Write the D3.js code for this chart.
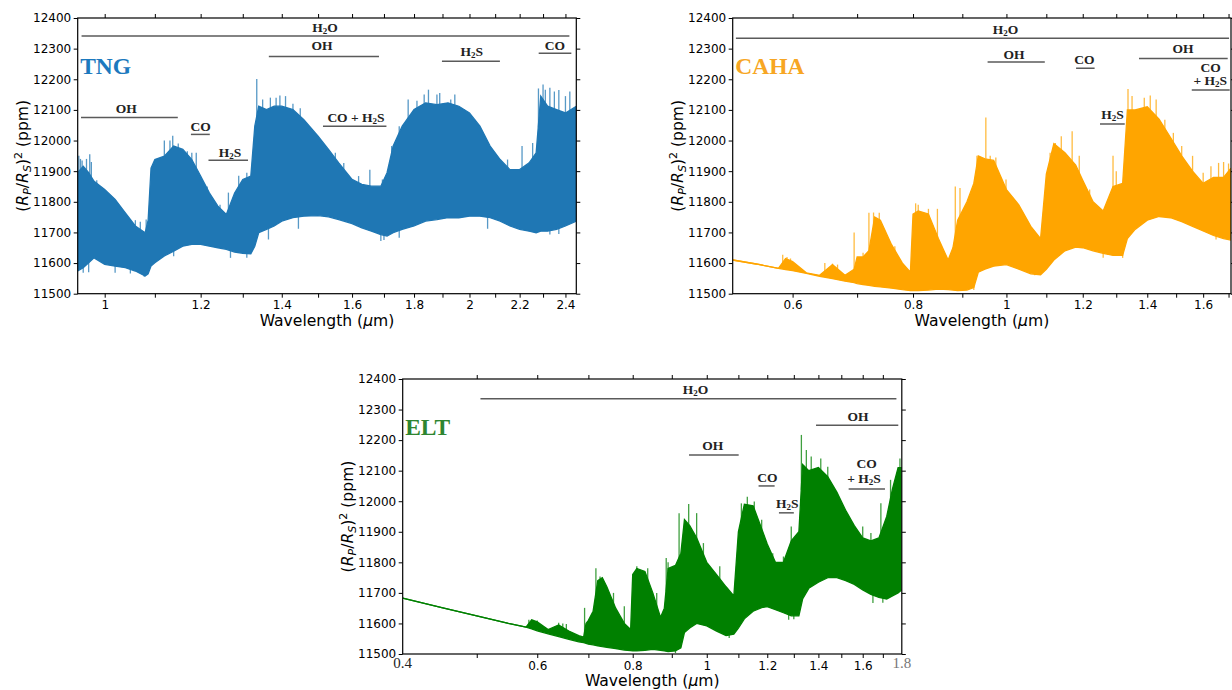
<!DOCTYPE html>
<html><head><meta charset="utf-8">
<script src="https://cdn.jsdelivr.net/npm/d3@7"></script>
<style>body{margin:0;background:#fff;}svg{display:block;}</style>
</head><body>
<svg id="chart" width="1232" height="690"></svg>
<script>
// ---------------- DATA ----------------
const yTicks = [11500,11600,11700,11800,11900,12000,12100,12200,12300,12400];

// TNG (GIANO) spectrum envelope
const tngWave  = [0.95,0.96,0.97,0.98,1.0,1.02,1.04,1.06,1.08,1.086,1.092,1.1,1.12,1.14,1.16,1.18,1.2,1.22,1.24,1.26,1.28,1.3,1.32,1.33,1.34,1.36,1.38,1.4,1.43,1.46,1.5,1.53,1.56,1.6,1.63,1.66,1.69,1.71,1.73,1.76,1.8,1.84,1.88,1.92,1.96,2.0,2.04,2.08,2.12,2.16,2.2,2.24,2.27,2.29,2.32,2.36,2.4,2.45];
const tngUpper = [11895,11916,11895,11867,11840,11808,11764,11721,11699,11740,11910,11938,11949,11982,11971,11938,11884,11829,11786,11759,11829,11873,11884,12047,12112,12101,12112,12112,12101,12068,12014,11971,11927,11873,11857,11851,11851,11895,11982,12047,12101,12123,12117,12123,12112,12090,12047,11982,11938,11905,11905,11927,11960,12145,12112,12101,12090,12112];
const tngLower = [11574,11585,11601,11617,11596,11590,11585,11574,11558,11565,11590,11601,11623,11639,11655,11661,11661,11655,11650,11645,11636,11632,11630,11655,11699,11710,11721,11737,11748,11753,11755,11751,11742,11729,11715,11704,11693,11688,11699,11710,11721,11737,11742,11748,11748,11753,11753,11748,11737,11721,11710,11704,11699,11704,11704,11710,11721,11737];
const tngSpikeWave = [0.952,0.955,0.958,0.966,0.972,0.975,0.985,1.01,1.045,1.06,1.07,1.082,1.11,1.12,1.132,1.138,1.15,1.17,1.18,1.19,1.215,1.245,1.265,1.29,1.31,1.335,1.35,1.37,1.385,1.395,1.41,1.43,1.45,1.465,1.48,1.53,1.55,1.575,1.62,1.655,1.695,1.705,1.725,1.75,1.78,1.81,1.835,1.85,1.88,1.89,1.93,1.945,1.98,2.02,2.04,2.07,2.11,2.15,2.21,2.255,2.28,2.30,2.31,2.33,2.35,2.37,2.40,2.42];
const tngSpikeTop  = [11950,11940,11935,11940,11955,11930,11870,11810,11745,11740,11735,11742,11940,12000,12000,12016,11990,11965,11960,11960,11850,11790,11830,11885,11895,12201,12134,12140,12140,12147,12145,12120,12105,12025,12036,11970,11960,11927,11884,11905,11873,11880,11982,12047,12134,12130,12150,12166,12150,12155,12134,12150,12101,12068,12025,11990,11916,11938,11982,11992,12170,12183,12166,12172,12160,12165,12145,12160];
const tngDipWave   = [0.96,0.97,1.02,1.05,1.078,1.14,1.27,1.31,1.365,1.445,1.69,1.70,1.75,2.07,2.33,2.37];
const tngDipBottom = [11568,11570,11568,11566,11555,11622,11617,11617,11677,11712,11672,11675,11683,11712,11693,11695];

// CAHA (CARMENES) spectrum envelope
const cahaWave  = [0.52,0.55,0.58,0.59,0.6,0.62,0.64,0.66,0.68,0.695,0.7,0.71,0.72,0.73,0.74,0.76,0.78,0.795,0.8,0.81,0.83,0.85,0.87,0.88,0.89,0.91,0.925,0.935,0.95,0.97,1.0,1.03,1.06,1.085,1.1,1.12,1.15,1.18,1.2,1.23,1.26,1.29,1.32,1.335,1.36,1.4,1.44,1.48,1.52,1.56,1.6,1.64,1.68,1.71];
const cahaUpper = [11610,11597,11583,11615,11605,11568,11560,11595,11560,11580,11620,11620,11640,11750,11740,11660,11600,11570,11760,11770,11760,11680,11610,11650,11740,11800,11860,11950,11940,11935,11840,11790,11720,11680,11890,11990,11960,11920,11870,11800,11770,11850,11860,12100,12100,12110,12070,12010,11950,11900,11860,11880,11880,11910];
const cahaLower = [11610,11597,11583,11579,11575,11566,11557,11549,11541,11536,11533,11530,11527,11524,11522,11518,11513,11510,11510,11510,11512,11515,11513,11512,11510,11512,11520,11570,11580,11590,11595,11580,11565,11562,11580,11610,11640,11652,11650,11640,11632,11625,11625,11680,11710,11740,11752,11748,11735,11720,11705,11690,11680,11675];
const cahaSpikeWave = [0.586,0.592,0.597,0.648,0.66,0.668,0.695,0.71,0.72,0.728,0.738,0.766,0.805,0.81,0.83,0.848,0.885,0.895,0.92,0.932,0.952,0.962,0.975,0.999,1.03,1.05,1.11,1.124,1.14,1.17,1.19,1.22,1.29,1.3,1.337,1.35,1.39,1.41,1.43,1.46,1.49,1.52,1.56,1.6,1.63,1.66,1.68,1.7];
const cahaSpikeTop  = [11627,11620,11615,11600,11598,11595,11700,11634,11764,11765,11764,11655,11795,11790,11777,11777,11850,11845,11830,11950,12075,11950,11945,11873,11775,11720,11960,11992,12014,12030,11950,11840,11950,11900,12168,12145,12140,12147,12134,12068,12025,11982,11950,11895,11916,11927,11930,11925];
const cahaDipWave   = [0.925,1.07,1.26,1.32,1.65];
const cahaDipBottom = [11512,11560,11617,11617,11677];

// ELT spectrum envelope
const eltWave  = [0.4,0.45,0.5,0.55,0.58,0.59,0.6,0.62,0.64,0.66,0.68,0.69,0.695,0.7,0.71,0.72,0.73,0.74,0.76,0.78,0.795,0.8,0.81,0.83,0.85,0.87,0.88,0.89,0.91,0.925,0.935,0.95,0.97,1.0,1.03,1.06,1.085,1.1,1.12,1.15,1.18,1.2,1.23,1.26,1.29,1.32,1.335,1.36,1.4,1.44,1.48,1.52,1.56,1.6,1.64,1.68,1.72,1.75,1.78,1.8];
const eltUpper = [11683,11652,11625,11600,11588,11612,11605,11580,11595,11575,11560,11555,11600,11610,11640,11740,11750,11720,11650,11600,11580,11760,11780,11770,11700,11620,11650,11780,11790,11830,11940,11920,11880,11800,11760,11720,11690,11900,11990,11985,11910,11860,11800,11800,11870,11900,12120,12100,12110,12080,12030,11970,11920,11880,11870,11880,11950,12040,12110,12110];
const eltLower = [11683,11652,11625,11600,11588,11582,11576,11566,11557,11548,11540,11537,11535,11532,11530,11527,11524,11522,11518,11513,11511,11510,11510,11512,11515,11512,11510,11508,11510,11520,11570,11585,11600,11592,11575,11560,11565,11585,11615,11640,11652,11655,11645,11635,11625,11625,11680,11715,11735,11750,11750,11740,11728,11710,11695,11685,11680,11690,11700,11710];
const eltSpikeWave = [0.585,0.592,0.6,0.64,0.648,0.655,0.692,0.716,0.725,0.755,0.78,0.81,0.837,0.86,0.885,0.89,0.92,0.947,0.97,0.99,1.04,1.11,1.13,1.154,1.18,1.22,1.26,1.29,1.33,1.35,1.37,1.41,1.44,1.47,1.5,1.55,1.6,1.64,1.69,1.74,1.79];
const eltSpikeTop  = [11612,11608,11610,11602,11600,11598,11651,11781,11754,11700,11656,11787,11781,11700,11814,11800,11961,11991,11961,11863,11787,11993,12015,11999,11939,11830,11819,11917,12217,12168,12146,12140,12113,12037,11972,11917,11917,11896,11993,12070,12140];
const eltDipWave   = [0.91,1.07,1.28,1.3,1.65,1.7];
const eltDipBottom = [11503,11552,11612,11614,11667,11668];

// x tick labels
const tngTicks  = [1,1.2,1.4,1.6,1.8,2,2.2,2.4];
const tngMinor  = [1.1,1.3,1.5,1.7,1.9,2.1,2.3];
const cahaTicks = [0.6,0.8,1,1.2,1.4,1.6];
const cahaMinor = [0.7,0.9,1.1,1.3,1.5,1.7];
const eltTicks  = [0.6,0.8,1,1.2,1.4,1.6];
const eltMinor  = [0.5,0.7,0.9,1.1,1.3,1.5,1.7];
const eltEdgeTicks = [0.4,1.8];

// annotations: [label, line start (µm), line end (µm), line level (ppm), label centre (µm), label baseline (ppm)]
const tngNotes = [
  ['H₂O', 0.957, 2.418, 12341, 1.520, 12353],
  ['OH', 1.366, 1.684, 12274, 1.511, 12295],
  ['H₂S', 1.898, 2.119, 12259, 2.009, 12276],
  ['CO', 2.281, 2.427, 12285, 2.352, 12296],
  ['OH', 0.956, 1.149, 12075, 1.042, 12089],
  ['CO', 1.178, 1.221, 12020, 1.200, 12031],
  ['H₂S', 1.218, 1.313, 11936, 1.269, 11947],
  ['CO + H₂S', 1.514, 1.708, 12047, 1.612, 12062]
];
const cahaNotes = [
  ['H₂O', 0.524, 1.702, 12334, 0.998, 12349],
  ['OH', 0.956, 1.096, 12256, 1.018, 12267],
  ['CO', 1.181, 1.2345, 12236, 1.205, 12249],
  ['OH', 1.3726, 1.6966, 12268, 1.5247, 12285],
  ['CO', null, null, null, 1.6286, 12225],
  ['+ H₂S', 1.557, 1.7047, 12165, 1.627, 12181],
  ['H₂S', 1.2504, 1.3266, 12054, 1.2887, 12069]
];
const eltNotes = [
  ['H₂O', 0.5056, 1.771, 12335, 0.9668, 12352],
  ['OH', 1.39, 1.781, 12249, 1.578, 12261],
  ['OH', 0.948, 1.101, 12151, 1.018, 12167],
  ['CO', 1.169, 1.227, 12050, 1.2007, 12063],
  ['H₂S', 1.243, 1.300, 11962, 1.275, 11979],
  ['CO', null, null, null, 1.619, 12108],
  ['+ H₂S', 1.5336, 1.711, 12040, 1.606, 12061]
];

// ---------------- DRAW ----------------
const svg = d3.select('#chart');
const SANS = "'DejaVu Sans', sans-serif";
const SERIF = "'Liberation Serif', 'Times New Roman', serif";
const defs = svg.append('defs');

function drawPanel(p) {
  const x = d3.scaleLog().domain(p.domain).range([p.left, p.right]);
  const y = d3.scaleLinear().domain([11500, 12400]).range([p.bottom, p.top]);
  const g = svg.append('g');
  const clipId = 'clip-' + p.id;
  defs.append('clipPath').attr('id', clipId).append('rect')
    .attr('x', p.left).attr('y', p.top).attr('width', p.right - p.left).attr('height', p.bottom - p.top);

  const rows = p.wave.map((w, i) => ({w, hi: p.upper[i], lo: p.lower[i]}));
  const plot = g.append('g').attr('clip-path', `url(#${clipId})`);
  const interp = (arr, w) => {
    const i = Math.max(1, Math.min(p.wave.length - 1, d3.bisectLeft(p.wave, w)));
    const w0 = p.wave[i - 1], w1 = p.wave[i];
    const t = (Math.log(w) - Math.log(w0)) / (Math.log(w1) - Math.log(w0));
    return arr[i - 1] + t * (arr[i] - arr[i - 1]);
  };
  // spikes (behind the dense band, lighter)
  plot.selectAll('line.spike').data(p.spikeWave).join('line').attr('class', 'spike')
    .attr('x1', d => x(d)).attr('x2', d => x(d))
    .attr('y1', (d, i) => y(p.spikeTop[i])).attr('y2', d => y(interp(p.upper, d)) + 3)
    .attr('stroke', p.color).attr('stroke-width', 1.3).attr('opacity', 0.75);
  plot.selectAll('line.dip').data(p.dipWave).join('line').attr('class', 'dip')
    .attr('x1', d => x(d)).attr('x2', d => x(d))
    .attr('y1', (d, i) => y(p.dipBottom[i])).attr('y2', d => y(interp(p.lower, d)) - 3)
    .attr('stroke', p.color).attr('stroke-width', 1.3).attr('opacity', 0.75);

  plot.append('path').datum(rows)
    .attr('d', d3.area().x(d => x(d.w)).y0(d => y(d.lo)).y1(d => y(d.hi)))
    .attr('fill', p.color);
  ['hi', 'lo'].forEach(k => {
    plot.append('path').datum(rows)
      .attr('d', d3.line().x(d => x(d.w)).y(d => y(d[k])))
      .attr('fill', 'none').attr('stroke', p.color).attr('stroke-width', 1.3);
  });

  // axes
  const styleAxis = sel => {
    sel.select('.domain').remove();
    sel.selectAll('line').attr('stroke', '#000').attr('stroke-width', 1);
    sel.selectAll('text').attr('font-family', SANS).attr('font-size', 12).attr('fill', '#000');
  };
  const allX = p.ticks.concat(p.minor);
  g.append('g').attr('transform', `translate(0,${p.bottom})`)
    .call(d3.axisBottom(x).tickValues(p.ticks).tickFormat(d => String(d)).tickSize(4).tickSizeOuter(0).tickPadding(3))
    .call(styleAxis);
  g.append('g').attr('transform', `translate(0,${p.bottom})`)
    .call(d3.axisBottom(x).tickValues(p.minor.filter(v => v < p.domain[1])).tickFormat('').tickSize(4).tickSizeOuter(0))
    .call(styleAxis);
  g.append('g').attr('transform', `translate(0,${p.top})`)
    .call(d3.axisTop(x).tickValues(allX.filter(v => v < p.domain[1])).tickFormat('').tickSize(4).tickSizeOuter(0))
    .call(styleAxis);
  g.append('g').attr('transform', `translate(${p.left},0)`)
    .call(d3.axisLeft(y).tickValues(yTicks).tickFormat(d => String(d)).tickSize(4).tickSizeOuter(0).tickPadding(2.5))
    .call(styleAxis);
  g.append('g').attr('transform', `translate(${p.right},0)`)
    .call(d3.axisRight(y).tickValues(yTicks).tickFormat('').tickSize(4).tickSizeOuter(0))
    .call(styleAxis);

  if (p.edgeTicks) {
    g.selectAll('text.edge').data(p.edgeTicks).join('text').attr('class', 'edge')
      .attr('x', d => x(d)).attr('y', p.bottom + 14)
      .attr('text-anchor', 'middle').attr('font-family', SERIF).attr('font-size', 15)
      .attr('fill', (d, i) => i === 0 ? '#222' : '#777').text(d => String(d));
  }

  g.append('rect').attr('x', p.left).attr('y', p.top)
    .attr('width', p.right - p.left).attr('height', p.bottom - p.top)
    .attr('fill', 'none').attr('stroke', '#000').attr('stroke-width', 1.2);

  // x label
  const xl = g.append('text').attr('x', (p.left + p.right) / 2).attr('y', p.bottom + 32)
    .attr('text-anchor', 'middle').attr('font-family', SANS).attr('font-size', 15.6).attr('fill', '#000');
  xl.append('tspan').text('Wavelength (');
  xl.append('tspan').attr('font-style', 'italic').text('μ');
  xl.append('tspan').text('m)');

  // y label
  const yl = g.append('text')
    .attr('transform', `translate(${p.left - 50},${(p.top + p.bottom) / 2}) rotate(-90)`)
    .attr('text-anchor', 'middle').attr('font-family', SANS).attr('font-size', 15.6).attr('fill', '#000');
  yl.append('tspan').text('(');
  yl.append('tspan').attr('font-style', 'italic').text('R');
  yl.append('tspan').attr('font-style', 'italic').attr('font-size', 11).attr('dy', 3.5).text('P');
  yl.append('tspan').attr('dy', -3.5).text('/');
  yl.append('tspan').attr('font-style', 'italic').text('R');
  yl.append('tspan').attr('font-style', 'italic').attr('font-size', 11).attr('dy', 3.5).text('S');
  yl.append('tspan').attr('dy', -3.5).text(')');
  yl.append('tspan').attr('font-size', 11).attr('dy', -6).text('2');
  yl.append('tspan').attr('dy', 6).text(' (ppm)');

  // panel title
  g.append('text').attr('x', p.left + 2.5).attr('y', p.top + 56)
    .attr('font-family', SERIF).attr('font-weight', 'bold').attr('font-size', 23.5)
    .attr('fill', p.titleColor).text(p.title);

  // annotations
  p.notes.forEach(n => {
    const [label, a, b, lv, lx, ly] = n;
    if (a !== null) {
      g.append('line').attr('x1', x(a)).attr('x2', x(b)).attr('y1', y(lv)).attr('y2', y(lv))
        .attr('stroke', '#5a5a5a').attr('stroke-width', 1.5);
    }
    const t = g.append('text').attr('x', x(lx)).attr('y', y(ly)).attr('text-anchor', 'middle')
      .attr('font-family', SERIF).attr('font-weight', 'bold').attr('font-size', 13.5).attr('fill', '#222');
    const parts = label.split('₂');
    parts.forEach((s, i) => {
      if (i > 0) {
        t.append('tspan').attr('font-size', 9).attr('dy', 2).text('2');
        t.append('tspan').attr('dy', -2).text(s);
      } else {
        t.append('tspan').text(s);
      }
    });
  });
}

drawPanel({id: 'tng', domain: [0.95, 2.45], left: 77.7, right: 576.3, top: 18, bottom: 293.7,
  wave: tngWave, upper: tngUpper, lower: tngLower, spikeWave: tngSpikeWave, spikeTop: tngSpikeTop,
  dipWave: tngDipWave, dipBottom: tngDipBottom,
  color: '#1f77b4', title: 'TNG', titleColor: '#1c79be', ticks: tngTicks, minor: tngMinor, notes: tngNotes});
drawPanel({id: 'caha', domain: [0.52, 1.71], left: 732.7, right: 1231, top: 18, bottom: 293.7,
  wave: cahaWave, upper: cahaUpper, lower: cahaLower, spikeWave: cahaSpikeWave, spikeTop: cahaSpikeTop,
  dipWave: cahaDipWave, dipBottom: cahaDipBottom,
  color: '#ffa500', title: 'CAHA', titleColor: '#f7a623', ticks: cahaTicks, minor: cahaMinor, notes: cahaNotes});
drawPanel({id: 'elt', domain: [0.4, 1.8], left: 402.7, right: 901.8, top: 379, bottom: 654,
  wave: eltWave, upper: eltUpper, lower: eltLower, spikeWave: eltSpikeWave, spikeTop: eltSpikeTop,
  dipWave: eltDipWave, dipBottom: eltDipBottom,
  color: '#008000', title: 'ELT', titleColor: '#2e8530', ticks: eltTicks, minor: eltMinor, edgeTicks: eltEdgeTicks, notes: eltNotes});
</script>
</body></html>
